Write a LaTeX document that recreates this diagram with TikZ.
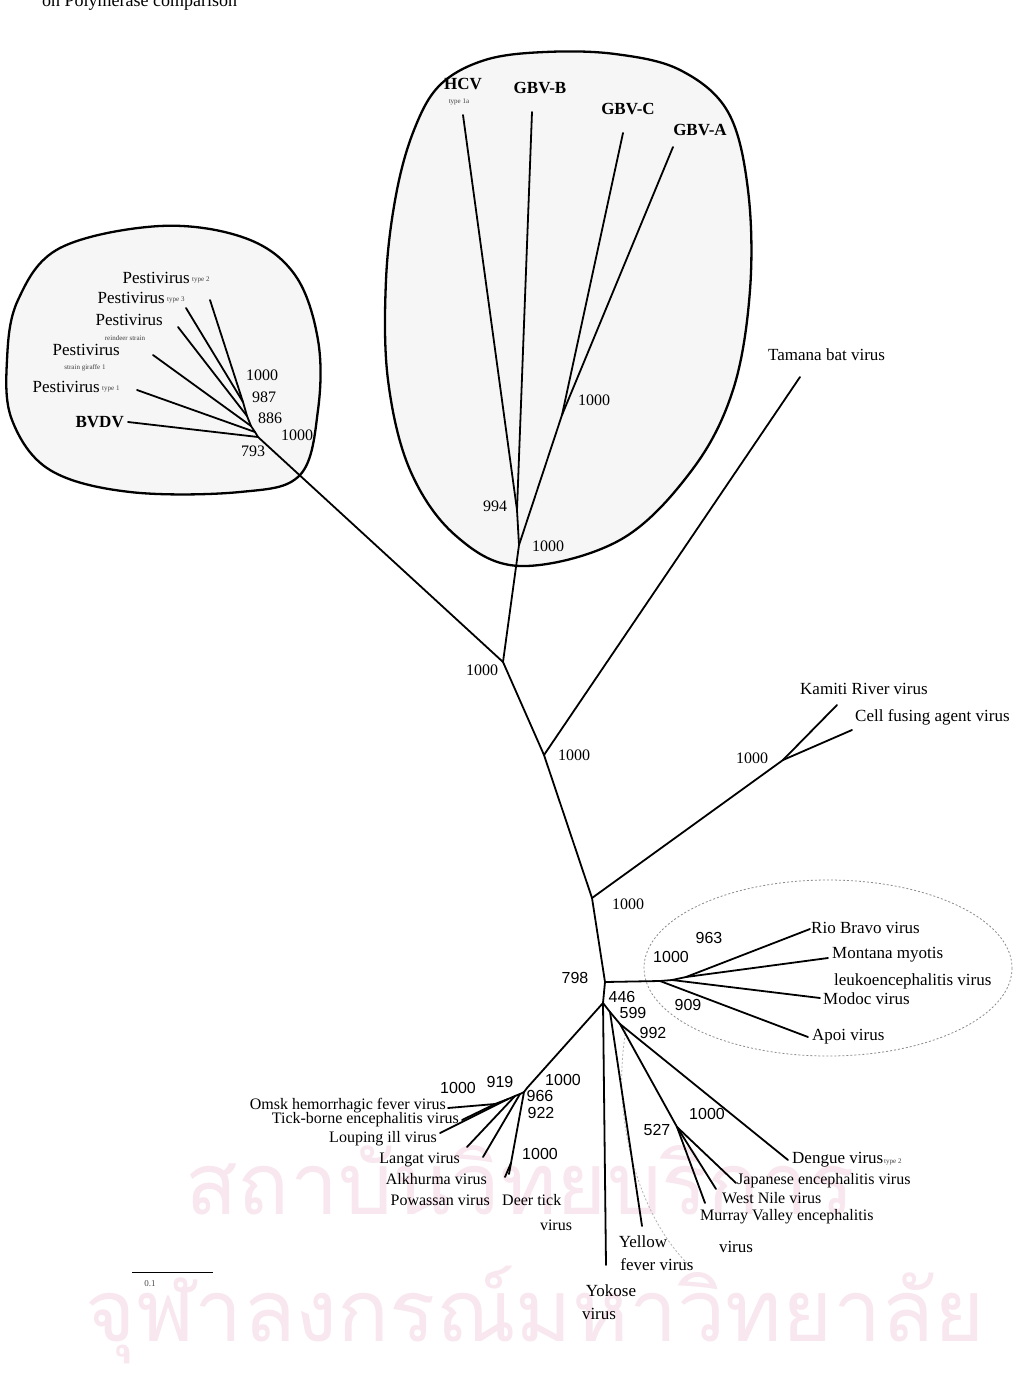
\documentclass[tikz,border=0pt]{standalone}
\usepackage{fontspec}
\setmainfont{Liberation Serif}
\newfontfamily\numfont{Liberation Sans}
\newfontfamily\thaifont[Script=Thai]{Loma}
\definecolor{wmpink}{RGB}{248,231,238}
\definecolor{grpfill}{RGB}{246,246,246}
\begin{document}
\begin{tikzpicture}[x=1pt,y=-1pt,
  br/.style={line width=1.8pt, line cap=round, line join=round},
  lab/.style={inner sep=0pt, font=\fontsize{17}{18}\selectfont},
  tlab/.style={inner sep=0pt, font=\fontsize{16}{16}\selectfont},
  blab/.style={inner sep=0pt, font=\bfseries\fontsize{17}{18}\selectfont},
  bs/.style={inner sep=0pt, font=\fontsize{16}{17}\selectfont},
  bsn/.style={inner sep=0pt, font=\numfont\fontsize{16}{17}\selectfont},
  sub/.style={inner sep=0pt, font=\fontsize{7}{8}\selectfont, text=black!75},
  grp/.style={line width=2.3pt, fill=grpfill},
  faint/.style={line width=0.8pt, black!45, dash pattern=on 2pt off 2pt},
  wm/.style={inner sep=0pt, text=wmpink, font=\thaifont\fontsize{86}{86}\selectfont}]
\useasboundingbox (0,0) rectangle (1025,1381);
\fill[white] (0,0) rectangle (1025,1381);

% watermark
\node[wm] (wm1) at (520,1180) {สถาบันวิทยบริการ};
\node[wm] (wm2) at (535,1315) {จุฬาลงกรณ์มหาวิทยาลัย};

% caption fragment at top
\node[inner sep=0pt, anchor=base west, font=\fontsize{18}{18}\selectfont] (cap) at (42,7) {on Polymerase comparison};

% group outlines
\draw[grp] plot[smooth cycle, tension=0.6] coordinates {(520,566) (455,535) (410,470) (388,380) (386,280) (396,195) (414,130) (440,85) (485,60) (545,52) (615,54) (680,70) (728,112) (748,190) (750,290) (733,390) (692,470) (620,540)};
\draw[grp] plot[smooth cycle, tension=0.6] coordinates {(160,226) (245,238) (295,275) (318,340) (318,410) (300,475) (240,492) (130,492) (50,470) (12,420) (7,360) (18,300) (60,248)};
\draw[faint] (828,968) ellipse [x radius=184, y radius=88];
\draw[faint, black!30] (626,1030) .. controls (610,1120) and (640,1220) .. (692,1268);

% coordinates
\coordinate (r0) at (503,662);
\coordinate (hB) at (519,545);
\coordinate (h994) at (517,510);
\coordinate (hCA) at (562,415);
\coordinate (tHCV) at (463,115);
\coordinate (tGBVB) at (532,112);
\coordinate (tGBVC) at (623,133);
\coordinate (tGBVA) at (673,147);
\coordinate (pR) at (258,437);
\coordinate (pD) at (255,432);
\coordinate (pC) at (251,426);
\coordinate (pB) at (247,416);
\coordinate (pA) at (243,402);
\coordinate (tP2) at (210,300);
\coordinate (tP3) at (186,308);
\coordinate (tPs) at (178,327);
\coordinate (tPw) at (153,355);
\coordinate (tP1) at (137,390);
\coordinate (tBV) at (128,422);
\coordinate (nT) at (544,755);
\coordinate (tTam) at (800,377);
\coordinate (nK) at (592,898);
\coordinate (kJ) at (783,760);
\coordinate (tKam) at (837,705);
\coordinate (tCFA) at (852,730);
\coordinate (n798) at (605,982);
\coordinate (rb0) at (660,981);
\coordinate (rb2) at (672,980);
\coordinate (rb1) at (686,977);
\coordinate (tRB) at (810,929);
\coordinate (tMM) at (828,958);
\coordinate (tMod) at (820,998);
\coordinate (tApoi) at (808,1037);
\coordinate (n446) at (603,1003);
\coordinate (n599) at (610,1012);
\coordinate (n992) at (620,1024);
\coordinate (tYok) at (606,1265);
\coordinate (tYF) at (642,1226);
\coordinate (tDen) at (788,1160);
\coordinate (jeJ) at (677,1127);
\coordinate (tJE) at (736,1183);
\coordinate (tWN) at (716,1189);
\coordinate (tMV) at (705,1203);
\coordinate (tbT) at (527,1088);
\coordinate (tb922) at (524,1092);
\coordinate (tb966) at (520,1094);
\coordinate (tb919) at (515,1096);
\coordinate (tbO) at (508,1099);
\coordinate (tbO2) at (495,1104);
\coordinate (pdJ) at (511,1163);
\coordinate (tPow) at (505,1177);
\coordinate (tDeer) at (509,1174);
\coordinate (tAlk) at (483,1157);
\coordinate (tLan) at (467,1147);
\coordinate (tLI) at (440,1133);
\coordinate (tOmsk) at (448,1108);
\coordinate (tTBE) at (462,1120);
\coordinate (sb1) at (132,1272);
\coordinate (sb2) at (213,1272);

% branches
\draw[br] (r0) -- (hB) -- (h994) -- (tHCV);
\draw[br] (h994) -- (tGBVB);
\draw[br] (hB) -- (hCA) -- (tGBVC);
\draw[br] (hCA) -- (tGBVA);
\draw[br] (r0) -- (pR) -- (pD) -- (pC) -- (pB) -- (pA) -- (tP2);
\draw[br] (pA) -- (tP3);
\draw[br] (pB) -- (tPs);
\draw[br] (pC) -- (tPw);
\draw[br] (pD) -- (tP1);
\draw[br] (pR) -- (tBV);
\draw[br] (r0) -- (nT) -- (nK) -- (n798) -- (n446);
\draw[br] (nT) -- (tTam);
\draw[br] (nK) -- (kJ) -- (tKam);
\draw[br] (kJ) -- (tCFA);
\draw[br] (n798) -- (rb0) -- (rb2) -- (rb1) -- (tRB);
\draw[br] (rb1) -- (tMM);
\draw[br] (rb2) -- (tMod);
\draw[br] (rb0) -- (tApoi);
\draw[br] (n446) -- (n599) -- (n992) -- (tDen);
\draw[br] (n446) -- (tYok);
\draw[br] (n599) -- (tYF);
\draw[br] (n992) -- (jeJ) -- (tJE);
\draw[br] (jeJ) -- (tWN);
\draw[br] (jeJ) -- (tMV);
\draw[br] (n446) -- (tbT) -- (tb922) -- (tb966) -- (tb919) -- (tbO) -- (tbO2) -- (tOmsk);
\draw[br] (tbO2) -- (tTBE);
\draw[br] (tbO) -- (tLI);
\draw[br] (tb919) -- (tLan);
\draw[br] (tb966) -- (tAlk);
\draw[br] (tb922) -- (pdJ) -- (tPow);
\draw[br] (pdJ) -- (tDeer);
\draw[line width=1pt] (sb1) -- (sb2);
\node[inner sep=0pt, font=\fontsize{9}{10}\selectfont, text=black!70] (sbl) at (150,1284) {0.1};

% HCV group labels
\node[blab] (lHCV) at (463,84) {HCV};
\node[sub] (lHCVs) at (459,102) {type 1a};
\node[blab] (lGBVB) at (540,88) {GBV-B};
\node[blab] (lGBVC) at (628,109) {GBV-C};
\node[blab] (lGBVA) at (700,130) {GBV-A};
\node[bs] (b994) at (495,506) {994};
\node[bs] (b1000h) at (548,546) {1000};
\node[bs] (b1000ca) at (594,400) {1000};

% pestivirus labels
\node[lab, anchor=east] (lP2) at (190,278) {Pestivirus};
\node[sub, anchor=west] (lP2s) at (192,280) {type 2};
\node[lab, anchor=east] (lP3) at (165,298) {Pestivirus};
\node[sub, anchor=west] (lP3s) at (167,300) {type 3};
\node[lab, anchor=east] (lPs) at (163,320) {Pestivirus};
\node[sub] (lPss) at (125,338) {reindeer strain};
\node[lab, anchor=east] (lPw) at (120,350) {Pestivirus};
\node[sub] (lPws) at (85,368) {strain giraffe 1};
\node[lab, anchor=east] (lP1) at (100,387) {Pestivirus};
\node[sub, anchor=west] (lP1s) at (102,389) {type 1};
\node[blab, anchor=east] (lBV) at (124,422) {BVDV};
\node[bs] (bp1) at (262,375) {1000};
\node[bs] (bp2) at (264,397) {987};
\node[bs] (bp3) at (270,418) {886};
\node[bs] (bp4) at (297,435) {1000};
\node[bs] (bp5) at (253,451) {793};

% backbone labels
\node[bs] (br0) at (482,670) {1000};
\node[bs] (bT) at (574,755) {1000};
\node[lab, anchor=west] (lTam) at (768,355) {Tamana bat virus};
\node[bs] (bK) at (628,904) {1000};
\node[bs] (bKJ) at (752,758) {1000};
\node[lab, anchor=west] (lKam) at (800,689) {Kamiti River virus};
\node[lab, anchor=west] (lCFA) at (855,717) {Cell fusing agent virus};

% Rio Bravo group
\node[bsn] (b798) at (575,978) {798};
\node[bsn] (b1000rb) at (671,957) {1000};
\node[bsn] (b963) at (709,938) {963};
\node[bsn] (b909) at (688,1005) {909};
\node[lab, anchor=west] (lRB) at (811,928) {Rio Bravo virus};
\node[lab, anchor=west] (lMM) at (832,955) {Montana myotis};
\node[lab, anchor=west] (lMM2) at (834,981) {leukoencephalitis virus};
\node[lab, anchor=west] (lMod) at (823,999) {Modoc virus};
\node[lab, anchor=west] (lApoi) at (812,1037) {Apoi virus};

% mosquito-borne group
\node[bsn] (b446) at (622,997) {446};
\node[bsn] (b599) at (633,1013) {599};
\node[bsn] (b992) at (653,1033) {992};
\node[bsn] (b527) at (657,1130) {527};
\node[bsn] (b1000je) at (707,1114) {1000};
\node[lab, anchor=west] (lDen) at (792,1160) {Dengue virus};
\node[sub, anchor=west] (lDens) at (884,1162) {type 2};
\node[tlab, anchor=west] (lJE) at (737,1181) {Japanese encephalitis virus};
\node[tlab, anchor=west] (lWN) at (722,1198) {West Nile virus};
\node[tlab, anchor=west] (lMV) at (700,1217) {Murray Valley encephalitis};
\node[lab] (lMV2) at (736,1247) {virus};
\node[lab] (lYF) at (643,1242) {Yellow};
\node[lab] (lYF2) at (657,1265) {fever virus};
\node[lab] (lYok) at (611,1291) {Yokose};
\node[lab] (lYok2) at (599,1314) {virus};

% tick-borne group
\node[bsn] (btbT) at (563,1080) {1000};
\node[bsn] (btb966) at (540,1096) {966};
\node[bsn] (btb922) at (541,1113) {922};
\node[bsn] (btb919) at (500,1082) {919};
\node[bsn] (btbO) at (458,1088) {1000};
\node[bsn] (bpd) at (540,1154) {1000};
\node[tlab, anchor=east] (lOmsk) at (446,1106) {Omsk hemorrhagic fever virus};
\node[tlab, anchor=east] (lTBE) at (459,1120) {Tick-borne encephalitis virus};
\node[tlab, anchor=east] (lLI) at (437,1139) {Louping ill virus};
\node[tlab, anchor=east] (lLan) at (460,1160) {Langat virus};
\node[tlab, anchor=east] (lAlk) at (487,1179) {Alkhurma virus};
\node[tlab, anchor=east] (lPow) at (490,1200) {Powassan virus};
\node[tlab, anchor=west] (lDeer) at (502,1200) {Deer tick};
\node[tlab] (lDeer2) at (556,1225) {virus};
\end{tikzpicture}
\end{document}
